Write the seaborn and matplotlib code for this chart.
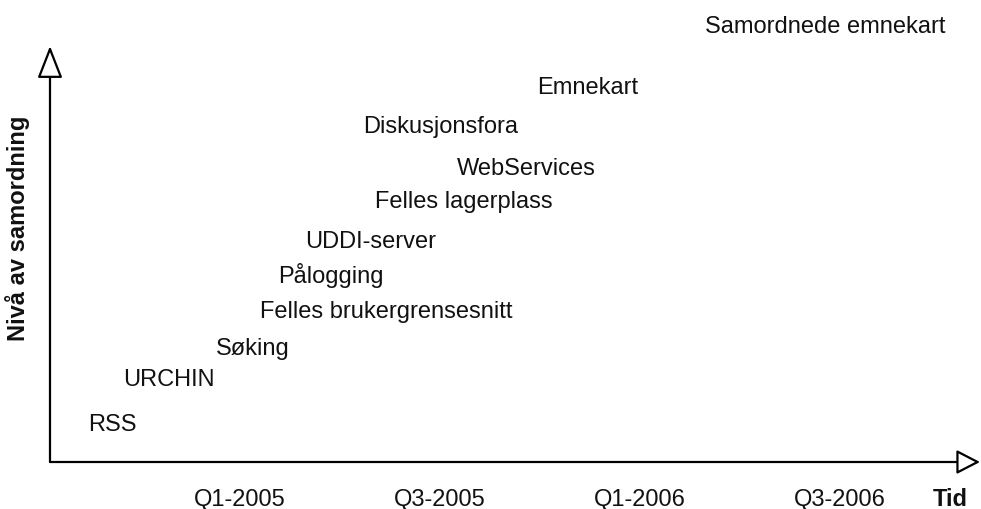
import matplotlib
matplotlib.use("Agg")
import matplotlib.pyplot as plt
import seaborn as sns

sns.set_theme(style="white")
plt.rcParams['font.family'] = ['Liberation Sans', 'DejaVu Sans']

# tiltak: tidspunkt (år) og nivå av samordning
tiltak = ["RSS", "URCHIN", "Søking", "Felles brukergrensesnitt", "Pålogging",
          "UDDI-server", "Felles lagerplass", "WebServices", "Diskusjonsfora",
          "Emnekart", "Samordnede emnekart"]
tid = [2004.62, 2004.7075, 2004.94, 2005.05, 2005.095,
       2005.1625, 2005.3375, 2005.5425, 2005.3075, 2005.7425, 2006.1625]
niva = [0.8, 1.925, 2.7, 3.625, 4.5,
        5.375, 6.375, 7.2, 8.25, 9.225, 10.75]

kvartal_pos = [2005.0, 2005.5, 2006.0, 2006.5]
kvartal_tekst = ["Q1-2005", "Q3-2005", "Q1-2006", "Q3-2006"]

fig = plt.figure(figsize=(9.81, 5.10), dpi=100)
ax = fig.add_axes([0, 0, 1, 1])
ax.set_xlim(2004.4, 2006.8525)
ax.set_ylim(-1.175, 11.575)
ax.axis("off")

x0, y0 = 2004.525, 0.0
x_slutt, y_slutt = 2006.85, 10.4

# akser med åpne pilhoder
ax.annotate("", xy=(x_slutt, y0), xytext=(x0, y0),
            arrowprops=dict(arrowstyle="-|>,head_length=1.45,head_width=0.75",
                            fc="white", ec="black", lw=1.6, shrinkA=0, shrinkB=0,
                            mutation_scale=10))
ax.annotate("", xy=(x0, y_slutt), xytext=(x0, y0),
            arrowprops=dict(arrowstyle="-|>,head_length=2.0,head_width=0.78",
                            fc="white", ec="black", lw=1.6, shrinkA=0, shrinkB=0,
                            mutation_scale=10))

for navn, t, n in zip(tiltak, tid, niva):
    ax.text(t, n, navn, fontsize=17, ha="left", va="baseline", color="#111111")

for t, lab in zip(kvartal_pos, kvartal_tekst):
    ax.text(t, -1.075, lab, fontsize=17, ha="center", va="baseline", color="#111111")

ax.text(2006.7325, -1.075, "Tid", fontsize=17, fontweight="bold",
        ha="left", va="baseline", color="#111111")
ax.text(2004.445, 5.875, "Nivå av samordning", fontsize=17, fontweight="bold",
        rotation=90, ha="center", va="center", color="#111111")

fig.savefig("out.png", dpi=100)
